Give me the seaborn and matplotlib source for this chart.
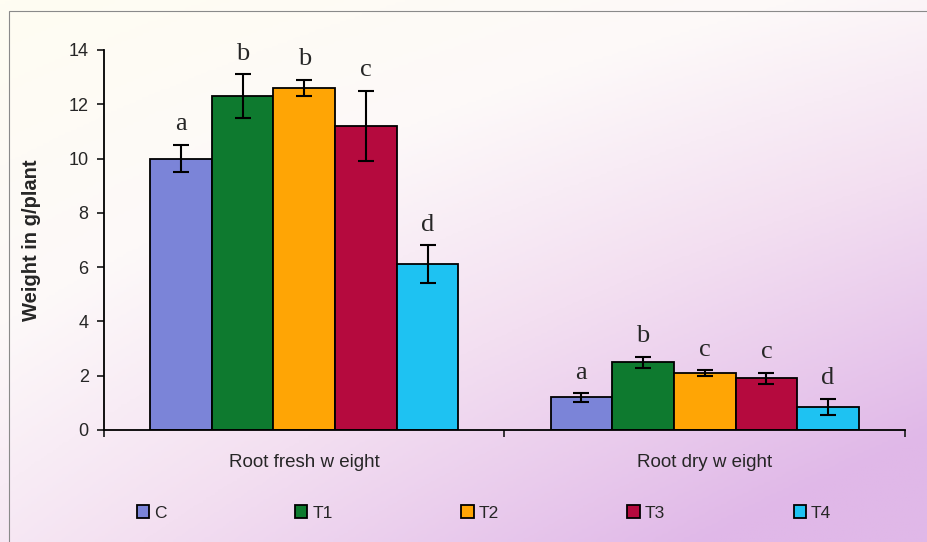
import numpy as np
import pandas as pd
import matplotlib
matplotlib.use("Agg")
import matplotlib.pyplot as plt
from matplotlib.colors import LinearSegmentedColormap
from matplotlib.patches import Rectangle
import seaborn as sns

# data
measures = ["Root fresh w eight", "Root dry w eight"]
treatments = ["C", "T1", "T2", "T3", "T4"]
fresh_mean = [10.0, 12.3, 12.6, 11.2, 6.1]
fresh_err = [0.5, 0.8, 0.3, 1.3, 0.7]
dry_mean = [1.2, 2.5, 2.1, 1.9, 0.85]
dry_err = [0.15, 0.2, 0.1, 0.2, 0.3]
fresh_letters = ["a", "b", "b", "c", "d"]
dry_letters = ["a", "b", "c", "c", "d"]
colors = ["#7B84D8", "#0E7A2F", "#FFA505", "#B50A3E", "#1EC2F2"]

df = pd.DataFrame({
    "Measure": [measures[0]] * 5 + [measures[1]] * 5,
    "Treatment": treatments * 2,
    "Weight": fresh_mean + dry_mean,
    "Err": fresh_err + dry_err,
    "Letter": fresh_letters + dry_letters,
})

sns.set_style("white")
plt.rcParams["font.family"] = ["Liberation Sans", "DejaVu Sans"]

fig = plt.figure(figsize=(9.28, 5.42), dpi=100)

# gradient background (cream top-left, white top, lavender bottom-right)
bg = fig.add_axes([0, 0, 1, 1], zorder=-10)
xx, yy = np.meshgrid(np.linspace(0, 1, 300), np.linspace(0, 1, 200))
t = np.clip(0.35 * xx + 0.5 * yy + 0.3 * xx * yy, 0, 1)
cmap = LinearSegmentedColormap.from_list(
    "bg", [(0, "#FFFDF2"), (0.3, "#FDF9F9"), (0.6, "#F3DFF1"), (1, "#E0B8E8")])
bg.imshow(t, cmap=cmap, aspect="auto", extent=[0, 1, 0, 1], origin="upper")
bg.set_axis_off()
fig.add_artist(Rectangle((9 / 928, -0.01), 1.0, 1 - 11 / 542 + 0.01,
                         transform=fig.transFigure, fill=False, ec="#8a8a8a", lw=0.8))

ax = fig.add_axes([104 / 928, 112 / 542, 801 / 928, 380 / 542])
ax.patch.set_alpha(0)

sns.barplot(data=df, x="Measure", y="Weight", hue="Treatment", order=measures,
            hue_order=treatments, palette=colors, saturation=1, width=0.77, gap=0,
            edgecolor="black", linewidth=1.3, errorbar=None, ax=ax, legend=True)

# error bars and letters on the drawn bars
bar_containers = list(ax.containers)
for i, cont in enumerate(bar_containers):
    sub = df[df["Treatment"] == treatments[i]].set_index("Measure").loc[measures]
    for bar, (_, row) in zip(cont, sub.iterrows()):
        xc = bar.get_x() + bar.get_width() / 2
        ax.errorbar(xc, row["Weight"], yerr=row["Err"], fmt="none", ecolor="black",
                    elinewidth=1.5, capsize=5.5, capthick=1.5)
        ax.text(xc, row["Weight"] + row["Err"] + 0.35, row["Letter"], ha="center",
                va="bottom", fontsize=19, family=["Liberation Serif", "DejaVu Serif"])

ax.set_xlim(-0.5, 1.5)
ax.set_ylim(0, 14)
ax.set_yticks(range(0, 15, 2))
ax.set_xticks([-0.5, 0.5, 1.5], minor=False)
ax.set_xticklabels([])
ax.set_xticks([0, 1], measures, minor=True)
ax.tick_params(axis="x", which="minor", length=0, pad=17, labelsize=13.5)
ax.tick_params(axis="x", which="major", length=5, width=1.3, direction="out", bottom=True)
ax.tick_params(axis="y", length=5, width=1.3, direction="out", left=True, labelsize=13, pad=6)
ax.set_xlabel("")
ax.set_ylabel("Weight in g/plant", fontsize=14.5, fontweight="bold", labelpad=20)
for s in ["top", "right"]:
    ax.spines[s].set_visible(False)
for s in ["left", "bottom"]:
    ax.spines[s].set_color("black")
    ax.spines[s].set_linewidth(1.3)

handles, labels = ax.get_legend_handles_labels()
ax.legend(handles, labels, loc="center", bbox_to_anchor=(484 / 928, 29 / 542),
          bbox_transform=fig.transFigure, ncol=5, frameon=False, fontsize=12.5,
          handlelength=0.7, handleheight=0.7, handletextpad=0.3, columnspacing=7.4)

fig.savefig("out.png", dpi=100)
